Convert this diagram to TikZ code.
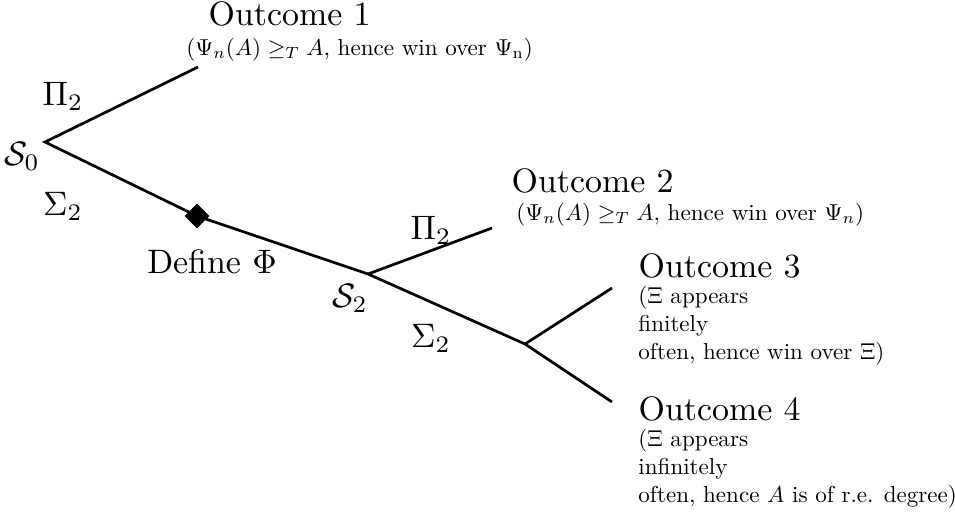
\documentclass[tikz,border=0pt]{standalone}
\usetikzlibrary{shapes.geometric}
\begin{document}
\begin{tikzpicture}[x=0.295pt,y=-0.295pt,
  branch/.style={line width=0.8pt},
  title/.style={anchor=base west,inner sep=0pt,font=\normalsize},
  sub/.style={anchor=base west,inner sep=0pt,font=\normalsize,align=left,scale=0.68,transform shape},
  subm/.style={sub,anchor=north west},
  lbl/.style={inner sep=0pt}]
\useasboundingbox (0,0) rectangle (955,515);
% vertices
\coordinate (s0) at (45,142);
\coordinate (o1end) at (198,67);
\coordinate (s2) at (368,274);
\coordinate (p2end) at (492,228);
\coordinate (v3) at (525,344);
\coordinate (o3end) at (612,288);
\coordinate (o4end) at (612,402);
\node[diamond,fill=black,inner sep=0pt,minimum size=7.5pt] (diam) at (197,216) {};
% branches
\draw[branch] (o1end) -- (s0) -- (diam.center) -- (s2) -- (v3);
\draw[branch] (s2) -- (p2end);
\draw[branch] (o3end) -- (v3) -- (o4end);
% labels
\node[lbl] (ls0) at (22,156) {$\mathcal{S}_0$};
\node[lbl] (lp1) at (63,96) {$\Pi_2$};
\node[lbl] (ls1) at (63,206) {$\Sigma_2$};
\node[lbl] (ldef) at (212,262) {Define $\Phi$};
\node[lbl] (ls2) at (350,298) {$\mathcal{S}_2$};
\node[lbl] (lp2) at (431,230) {$\Pi_2$};
\node[lbl] (ls3) at (431,338) {$\Sigma_2$};
% outcomes
\node[title] (t1) at (208,25) {Outcome 1};
\node[sub] (d1) at (186,55) {$(\Psi_n(A) \geq_T A$, hence win over $\Psi_{\mathrm{n}}$)};
\node[title] (t2) at (511,192) {Outcome 2};
\node[sub] (d2) at (516,220) {$(\Psi_n(A) \geq_T A,$ hence win over $\Psi_n)$};
\node[title] (t3) at (638,277) {Outcome 3};
\node[subm] (d3) at (638,286) {($\Xi$ appears\\finitely\\often, hence win over $\Xi$)};
\node[title] (t4) at (638,420) {Outcome 4};
\node[subm] (d4) at (638,429) {($\Xi$ appears\\infinitely\\often, hence $A$ is of r.e. degree)};
\end{tikzpicture}
\end{document}
